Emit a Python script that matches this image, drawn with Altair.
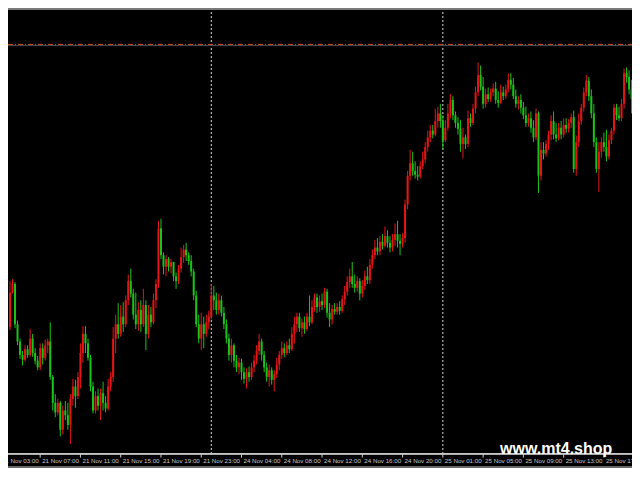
import altair as alt
import pandas as pd

# ---- data (price in points) ----
first_open = 147
close = [183,192,150,132,118,113,124,118,135,120,112,105,125,115,128,132,95,68,58,68,
         40,60,55,45,72,85,75,95,120,140,130,115,85,60,75,65,78,68,62,85,
         95,135,150,140,158,150,175,195,182,160,150,165,150,170,140,160,152,175,192,250,
         222,210,218,210,215,200,195,208,220,228,222,216,205,180,150,135,150,140,152,158,
         180,175,165,175,162,150,135,118,128,112,105,110,100,93,100,95,105,112,122,132,
         118,105,95,102,92,98,108,118,125,120,128,124,140,150,158,146,152,145,158,152,
         168,178,168,174,170,184,162,155,166,163,168,164,176,184,194,200,192,188,195,182,
         190,200,196,212,222,230,226,236,232,242,235,230,238,244,237,234,240,275,305,318,
         310,306,304,315,322,335,345,352,348,362,370,362,342,355,370,384,368,360,354,338,
         345,338,365,360,375,392,410,398,380,390,385,392,396,384,381,392,388,395,405,400,
         388,380,384,376,368,360,365,355,345,370,305,332,328,338,348,362,348,344,355,348,
         358,354,360,366,312,340,362,376,392,404,388,370,340,312,330,340,335,325,342,352,
         376,368,365,380,412,408,395,385]
high = [195,197,194,154,135,122,128,128,145,140,125,117,130,130,134,135,152,97,77,72,
        70,65,70,68,77,93,92,100,130,148,148,135,118,90,80,83,83,90,75,93,
        100,147,160,172,170,173,180,202,208,187,183,173,175,187,175,170,168,182,197,258,
        260,225,222,220,218,215,204,212,230,233,235,225,222,208,185,160,162,158,160,164,
        192,190,183,182,180,168,155,140,135,130,118,115,114,105,104,106,110,118,128,140,
        135,122,110,108,105,102,115,122,132,130,132,135,147,158,162,162,156,158,162,180,
        175,182,182,180,182,188,187,172,170,172,172,174,180,190,200,208,215,202,200,198,
        196,206,210,218,228,238,240,242,244,252,248,242,244,255,258,244,245,280,310,332,
        330,320,315,320,330,340,352,358,358,375,377,380,368,363,380,390,388,372,366,363,
        355,348,373,370,380,398,423,420,408,396,397,396,401,403,393,400,398,400,412,412,
        407,395,388,390,382,377,370,372,363,375,372,340,340,342,352,368,372,360,360,362,
        365,365,364,370,373,347,370,380,397,410,408,395,380,345,340,345,350,353,348,355,
        380,380,377,385,417,418,415,405]
low = [144,182,146,128,114,107,111,115,116,116,108,102,102,108,112,120,92,60,53,55,
       33,35,50,40,25,65,63,72,83,110,120,112,80,57,57,60,50,60,58,60,
       80,90,120,135,137,142,147,170,178,155,145,143,142,147,123,135,147,150,167,188,
       218,202,200,205,203,195,187,192,204,214,216,212,200,175,147,130,123,125,137,145,
       155,165,160,160,158,145,130,112,110,105,100,98,92,88,83,90,92,100,108,118,
       112,100,90,85,87,80,94,102,114,116,118,120,122,130,142,142,137,140,143,148,
       150,163,162,163,165,167,157,147,150,160,160,160,162,170,180,188,188,183,184,175,
       178,186,192,192,208,218,222,222,228,230,230,225,226,232,230,222,230,235,270,300,
       305,302,300,302,312,318,330,340,344,346,355,355,332,340,352,365,363,355,348,330,
       323,333,335,356,358,370,388,394,375,376,382,382,388,380,376,380,384,385,392,395,
       385,376,374,370,364,356,356,350,340,342,287,300,322,325,332,342,343,340,342,343,
       345,350,350,355,308,305,335,358,372,388,383,365,335,308,288,324,330,320,322,338,
       348,363,362,362,375,402,390,370]

tick_index = [-4, 12, 28, 44, 60, 76, 92, 108, 124, 140, 156, 172, 188, 204, 220, 236]
tick_labels = ["21 Nov 03:00", "21 Nov 07:00", "21 Nov 11:00", "21 Nov 15:00",
               "21 Nov 19:00", "21 Nov 23:00", "24 Nov 04:00", "24 Nov 08:00",
               "24 Nov 12:00", "24 Nov 16:00", "24 Nov 20:00", "25 Nov 01:00",
               "25 Nov 05:00", "25 Nov 09:00", "25 Nov 13:00", "25 Nov 17:00"]
day_separators = [80, 172]
level_price = [442]
watermark = ["www.mt4.shop"]

# ---- layout ----
W, H = 624, 460
axis_y = 465 / 480 * H

opens = [first_open] + close[:-1]
df = pd.DataFrame({"i": list(range(len(close))), "open": opens, "high": high,
                   "low": low, "close": close})
df["dir"] = ["up" if c >= o else "down" for o, c in zip(opens, close)]

xs = alt.Scale(domain=[-0.7845, 247.16], nice=False, zero=False)
ys = alt.Scale(domain=[0, 480], nice=False, zero=False)
col = alt.Color("dir:N", scale=alt.Scale(domain=["up", "down"],
                                         range=["#e81414", "#18c418"]), legend=None)

base = alt.Chart(df)
wick = base.mark_rule(strokeWidth=1).encode(
    x=alt.X("i:Q", scale=xs, axis=None),
    y=alt.Y("low:Q", scale=ys, axis=None), y2="high:Q", color=col)
body = base.mark_rule(strokeWidth=2).encode(
    x=alt.X("i:Q", scale=xs, axis=None),
    y=alt.Y("open:Q", scale=ys, axis=None), y2="close:Q", color=col)

sep = alt.Chart(pd.DataFrame({"i": day_separators})).mark_rule(
    color="#d8d8d8", strokeDash=[2, 2], strokeWidth=1).encode(
    x=alt.X("i:Q", scale=xs, axis=None), y=alt.value(0), y2=alt.value(axis_y))

lvl_df = pd.DataFrame({"p": level_price})
lvl_grey = alt.Chart(lvl_df).mark_rule(color="#505050", strokeWidth=1, yOffset=1).encode(
    y=alt.Y("p:Q", scale=ys, axis=None), x=alt.value(0), x2=alt.value(W))
lvl = alt.Chart(lvl_df).mark_rule(color="#c8501e", strokeWidth=1,
                                  strokeDash=[5, 2, 1, 2]).encode(
    y=alt.Y("p:Q", scale=ys, axis=None), x=alt.value(0), x2=alt.value(W))

tick_df = pd.DataFrame({"i": tick_index, "label": tick_labels})
axis_line = alt.Chart(tick_df).mark_rule(color="#c8c8c8", strokeWidth=1).encode(
    x=alt.value(0), x2=alt.value(W), y=alt.value(axis_y))
ticks = alt.Chart(tick_df).mark_rule(color="#c8c8c8", strokeWidth=1).encode(
    x=alt.X("i:Q", scale=xs, axis=None), y=alt.value(axis_y), y2=alt.value(axis_y + 4))
labels = alt.Chart(tick_df).mark_text(
    align="left", baseline="alphabetic", dx=2, fontSize=6.2,
    font="Liberation Sans", color="#c8c8c8").encode(
    x=alt.X("i:Q", scale=xs, axis=None), y=alt.value(axis_y + 9.5), text="label:N")

top_line = alt.Chart(tick_df).mark_rule(color="#7a7a7a", strokeWidth=2).encode(
    x=alt.value(0), x2=alt.value(W), y=alt.value(1))
bottom_line = alt.Chart(tick_df).mark_rule(color="#6a6a6a", strokeWidth=1).encode(
    x=alt.value(0), x2=alt.value(W), y=alt.value(H - 1))

wm = alt.Chart(pd.DataFrame({"t": watermark})).mark_text(
    align="left", baseline="alphabetic", fontSize=16, fontWeight="bold",
    font="Liberation Sans", color="#ffffff").encode(
    x=alt.value(492), y=alt.value(446), text="t:N")

chart = alt.layer(sep, lvl_grey, lvl, wick, body, axis_line, ticks, labels,
                  top_line, bottom_line, wm).properties(
    width=W, height=H, autosize=alt.AutoSizeParams(type="none"), padding=0,
    background="#000000"
).configure_view(stroke=None, fill="#000000")

chart.save("out.html", embed_options={"renderer": "svg", "actions": False})
